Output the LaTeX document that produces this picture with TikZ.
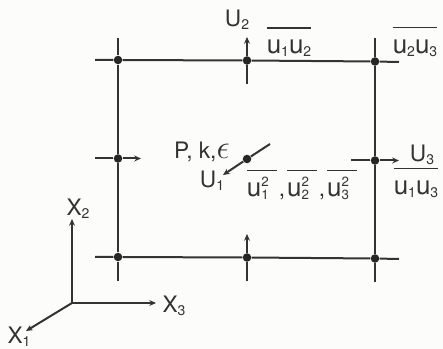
\documentclass[tikz,border=0pt]{standalone}
\usepackage{fontspec}
\setmainfont{TeX Gyre Heros}
\usepackage{graphicx}
\usetikzlibrary{arrows.meta}
\definecolor{ink}{HTML}{333333}
\definecolor{paper}{HTML}{FCFCFA}
\newcommand{\sbt}[1]{\raisebox{-2.6pt}{\fontsize{10.5pt}{10.5pt}\selectfont #1}}
\newcommand{\lu}{{\fontsize{19.5pt}{20pt}\selectfont u}}
\newcommand{\sqr}[2]{\rlap{\raisebox{-2.6pt}{\fontsize{10pt}{10pt}\selectfont #2}}\raisebox{7pt}{\fontsize{10pt}{10pt}\selectfont #1}}
\newcommand{\barred}[2][18.5pt]{\setbox0=\hbox{#2}\rlap{\raisebox{#1}{\rule{\wd0}{1pt}}}\box0}
\begin{document}
\begin{tikzpicture}[x=0.75pt,y=-0.75pt,
  grid/.style={draw=ink,line width=1.5pt},
  vec/.style={draw=ink,line width=1.5pt,-{Stealth[length=5pt,width=4.4pt]}},
  dot/.style={circle,fill=black!85,inner sep=0pt,minimum size=6.4pt},
  lab/.style={inner sep=0pt,text=ink,font=\fontsize{17pt}{18pt}\selectfont}]
\useasboundingbox[fill=paper] (0,0) rectangle (443,349);
% nodes
\node[dot] (tl) at (118,60) {};
\node[dot] (tm) at (247,60.5) {};
\node[dot] (tr) at (375,61.5) {};
\node[dot] (ml) at (118,158.5) {};
\node[dot] (c)  at (247,159) {};
\node[dot] (mr) at (375,160.5) {};
\node[dot] (bl) at (118,257) {};
\node[dot] (bm) at (247,257.5) {};
\node[dot] (br) at (375,258.5) {};
% free ends
\coordinate (tlW) at (95,60);
\coordinate (trE) at (399,62);
\coordinate (blW) at (95,257);
\coordinate (brE) at (399,259);
\coordinate (tlN) at (118,38);
\coordinate (trN) at (375,38);
\coordinate (blS) at (118,281);
\coordinate (brS) at (375,282);
\coordinate (tmS) at (247,84);
\coordinate (tmN) at (247,37);
\coordinate (bmS) at (247,281);
\coordinate (bmN) at (247,234);
\coordinate (mlW) at (95,158.5);
\coordinate (mlE) at (141,158.5);
\coordinate (mrW) at (351,160.5);
\coordinate (mrE) at (399,160.5);
\coordinate (cNE) at (270,144);
\coordinate (cSW) at (223,175);
\coordinate (O) at (72,303);
\coordinate (X2) at (72,219);
\coordinate (X3) at (156,303);
\coordinate (X1) at (26,331);
% grid
\draw[grid] (tlW) -- (tl) -- (tm) -- (tr) -- (trE);
\draw[grid] (blW) -- (bl) -- (bm) -- (br) -- (brE);
\draw[grid] (tlN) -- (tl) -- (ml) -- (bl) -- (blS);
\draw[grid] (trN) -- (tr) -- (mr) -- (br) -- (brS);
% staggered vectors
\draw[grid] (tmS) -- (tm);
\draw[vec] (tm) -- (tmN);
\draw[grid] (bm) -- (bmS);
\draw[vec] (bm) -- (bmN);
\draw[grid] (mlW) -- (ml);
\draw[vec] (ml) -- (mlE);
\draw[grid] (mrW) -- (mr);
\draw[vec] (mr) -- (mrE);
\draw[grid] (cNE) -- (c);
\draw[vec] (c) -- (cSW);
% axes
\draw[vec] (O) -- (X2);
\draw[vec] (O) -- (X3);
\draw[vec] (O) -- (X1);
% labels
\node[lab] (lU2) at (237,20) {U\sbt{2}};
\node[lab] (l12) at (289,42) {\barred{\lu\sbt{1}\lu\sbt{2}}};
\node[lab] (l23) at (415,42) {\barred{\lu\sbt{2}\lu\sbt{3}}};
\node[lab] (lU3) at (422,155) {U\sbt{3}};
\node[lab] (l13) at (416,183) {\barred{\lu\sbt{1}\lu\sbt{3}}};
\node[lab] (lP) at (202,152) {P, k,\scalebox{1.45}{$\epsilon$}};
\node[lab] (lU1) at (212,181) {U\sbt{1}};
\node[lab] (lsq) at (302,185) {\barred{\lu\sqr{2}{1}\hspace{6pt}}\hspace{1.5pt},\hspace{1.5pt}\barred{\lu\sqr{2}{2}\hspace{6pt}}\hspace{1.5pt},\hspace{1.5pt}\barred{\lu\sqr{2}{3}\hspace{6pt}}};
\node[lab] (lX2) at (78,209) {X\sbt{2}};
\node[lab] (lX3) at (174,306) {X\sbt{3}};
\node[lab] (lX1) at (19,337) {X\sbt{1}};
\end{tikzpicture}
\end{document}
